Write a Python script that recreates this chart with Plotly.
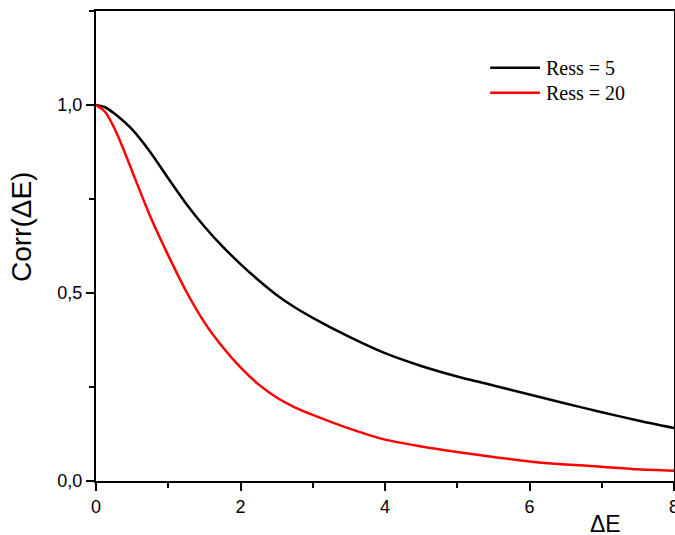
import plotly.graph_objects as go

# Data
x_vals = [0, 0.125, 0.25, 0.375, 0.5, 0.75, 1.0, 1.25, 1.5, 1.75, 2.0, 2.25, 2.5, 2.75, 3.0, 3.5, 4.0,
          4.5, 5.0, 5.5, 6.0, 6.5, 7.0, 7.5, 8.0]
ress5 = [1.0, 0.994, 0.978, 0.958, 0.935, 0.875, 0.805, 0.737, 0.677, 0.624, 0.577, 0.534, 0.495, 0.462,
         0.434, 0.384, 0.340, 0.306, 0.278, 0.254, 0.230, 0.206, 0.183, 0.161, 0.141]
ress20 = [1.0, 0.982, 0.940, 0.885, 0.824, 0.704, 0.600, 0.504, 0.422, 0.357, 0.302, 0.257, 0.222, 0.196,
          0.176, 0.140, 0.110, 0.092, 0.077, 0.064, 0.052, 0.044, 0.038, 0.031, 0.027]
series_names = ["Ress = 5", "Ress = 20"]
series_colors = ["#000000", "#ff0000"]
x_ticks = [0, 2, 4, 6, 8]
y_ticks = [0.0, 0.5, 1.0]
y_ticklabels = ["0,0", "0,5", "1,0"]

fig = go.Figure()
for name, ys, col in zip(series_names, [ress5, ress20], series_colors):
    fig.add_trace(go.Scatter(x=x_vals, y=ys, mode="lines", name=name,
                             line=dict(color=col, width=2.5, shape="spline", smoothing=0.7),
                             showlegend=False, hoverinfo="skip"))

tickfont = dict(family="Liberation Sans, Arial, sans-serif", size=18, color="black")
fig.update_xaxes(range=[0, 8], tickvals=x_ticks, ticktext=[str(v) for v in x_ticks],
                 ticks="outside", ticklen=8, tickwidth=2, tickcolor="black",
                 minor=dict(dtick=1, tick0=0, ticks="outside", ticklen=5, tickwidth=2, tickcolor="black"),
                 showline=True, linecolor="black", linewidth=2, mirror=True,
                 showgrid=False, zeroline=False, tickfont=tickfont, automargin=False,
                 ticklabeloverflow="allow")
fig.update_yaxes(range=[0, 1.25], tickvals=y_ticks, ticktext=y_ticklabels,
                 ticks="outside", ticklen=8, tickwidth=2, tickcolor="black",
                 minor=dict(dtick=0.25, tick0=0, ticks="outside", ticklen=5, tickwidth=2, tickcolor="black"),
                 showline=True, linecolor="black", linewidth=2, mirror=True,
                 showgrid=False, zeroline=False, tickfont=tickfont, automargin=False,
                 ticklabeloverflow="allow")

# Legend drawn manually (longer line samples like the reference)
legend_font = dict(family="Liberation Serif, Times New Roman, serif", size=20, color="black")
leg_y = [0.879, 0.826]
for name, col, yy in zip(series_names, series_colors, leg_y):
    fig.add_shape(type="line", xref="paper", yref="paper", x0=0.682, x1=0.768, y0=yy, y1=yy,
                  line=dict(color=col, width=2.5))
    fig.add_annotation(xref="paper", yref="paper", x=0.775, y=yy, text=name, showarrow=False,
                       xanchor="left", yanchor="middle", font=legend_font)

fig.add_annotation(xref="paper", yref="paper", x=0.882, y=-0.091, text="ΔE", showarrow=False,
                   xanchor="center", yanchor="middle",
                   font=dict(family="Liberation Sans, Arial, sans-serif", size=23, color="black"))
fig.add_annotation(xref="paper", yref="paper", x=-0.13, y=0.54, text="Corr(ΔE)", showarrow=False,
                   textangle=-90, xanchor="center", yanchor="middle",
                   font=dict(family="Liberation Sans, Arial, sans-serif", size=28, color="black"))

fig.update_layout(width=675, height=535, plot_bgcolor="white", paper_bgcolor="white",
                  margin=dict(l=96, r=1, t=11, b=54, autoexpand=False), hovermode=False)

fig.write_html("out.html", config={"displayModeBar": False, "staticPlot": True},
               post_script="document.body.style.margin='0';document.documentElement.style.overflow='hidden';")
